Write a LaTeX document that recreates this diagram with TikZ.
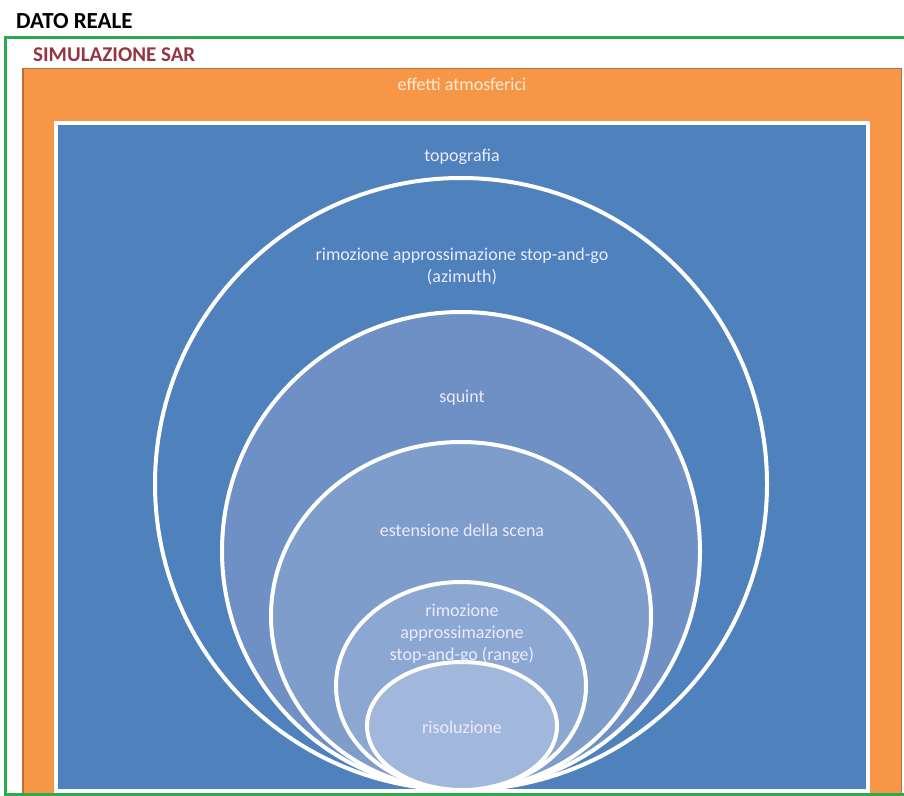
\documentclass[tikz,border=0pt]{standalone}
\usepackage{fontspec}
\setmainfont{Carlito}
\begin{document}
\begin{tikzpicture}[x=1pt,y=-1pt,
  frametitle/.style={anchor=west,inner sep=0pt,font=\bfseries},
  ring/.style={draw=white,line width=4pt},
  lbl/.style={text=white!92!blue,font=\fontsize{18}{22}\selectfont,align=center,inner sep=0pt}]
\definecolor{greenframe}{HTML}{2DAA4F}
\definecolor{orangefill}{HTML}{F79646}
\definecolor{orangeedge}{HTML}{B8703A}
\definecolor{sarred}{HTML}{953742}
\definecolor{blueA}{HTML}{4F81BD}
\definecolor{blueB}{HTML}{6F90C4}
\definecolor{blueC}{HTML}{7E9DCB}
\definecolor{blueD}{HTML}{8CA8D2}
\definecolor{blueE}{HTML}{A1B7DB}
\useasboundingbox (0,0) rectangle (904,795);
\fill[white] (0,0) rectangle (904,795);
\begin{scope}
\clip (0,0) rectangle (904,795);
% outer frames
\draw[orangeedge,fill=orangefill,line width=1.5pt] (23,68.5) rectangle (901.5,800);
\draw[blueA,fill=blueA] (56,123) rectangle (867.5,791);
\draw[white,line width=4pt] (56,123) rectangle (867.5,791);
\draw[greenframe,line width=3pt] (5.5,37.5) rectangle (912,794);
% nested discs, all touching at the bottom
\draw[ring,fill=blueA] (461,484) ellipse [x radius=306,y radius=306];
\draw[ring,fill=blueB] (461,551) ellipse [x radius=239,y radius=239];
\draw[ring,fill=blueC] (461,616) ellipse [x radius=190,y radius=174];
\draw[ring,fill=blueD] (461,686) ellipse [x radius=125,y radius=104];
\draw[ring,fill=blueE] (462,726) ellipse [x radius=95,y radius=64];
\end{scope}
% titles
\node[frametitle,font=\fontsize{23}{26}\selectfont\bfseries] (dato) at (16,21.5) {DATO REALE};
\node[frametitle,text=sarred,font=\fontsize{21}{24}\selectfont\bfseries] (sim) at (33,55) {SIMULAZIONE SAR};
% labels
\node[lbl,text=white!85!orange] (atm) at (462,84) {effetti atmosferici};
\node[lbl] (topo) at (462,157) {topografia};
\node[lbl] (azi) at (462,266) {rimozione approssimazione stop-and-go\\(azimuth)};
\node[lbl] (squint) at (462,398) {squint};
\node[lbl] (scena) at (462,530) {estensione della scena};
\node[lbl] (range) at (462,634) {rimozione\\approssimazione\\stop-and-go (range)};
\node[lbl] (ris) at (462,727) {risoluzione};
\end{tikzpicture}
\end{document}
